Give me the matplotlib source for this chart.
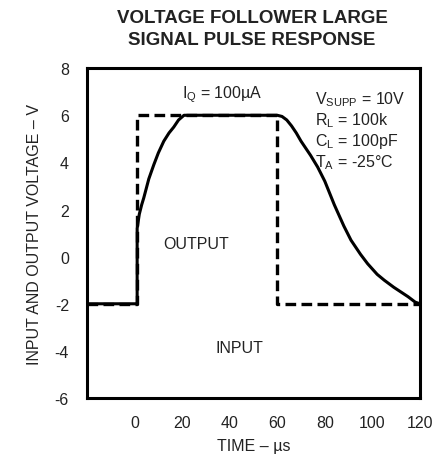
import matplotlib
matplotlib.use('Agg')
import matplotlib.pyplot as plt

plt.rcParams['font.family'] = ['Liberation Sans', 'DejaVu Sans']
plt.rcParams['axes.unicode_minus'] = False

# input pulse (dashed)
t_in = [-20, 1, 1, 60, 60, 120]
v_in = [-2, -2, 6, 6, -2, -2]

# output response (solid)
t_out = [-20, 1.1, 1.1, 2.0, 3.0, 3.9, 6.0, 8.1, 10.0, 12.3, 14.5, 16.5, 18.5, 20.8, 40, 60,
         62, 64, 66, 68, 70, 72, 74, 77, 80, 84, 88, 91, 95, 98, 102, 105, 109, 112, 115, 118, 120]
v_out = [-2, -2, 1.2, 1.8, 2.2, 2.5, 3.3, 3.9, 4.4, 4.9, 5.25, 5.5, 5.8, 6.0, 6.0, 6.0,
         5.95, 5.8, 5.55, 5.25, 4.9, 4.6, 4.3, 3.8, 3.2, 2.2, 1.3, 0.7, 0.1, -0.3, -0.75, -1.0, -1.3, -1.5, -1.7, -1.93, -2.0]

xticks = [0, 20, 40, 60, 80, 100, 120]
yticks = [-6, -4, -2, 0, 2, 4, 6, 8]

fig = plt.figure(figsize=(4.37, 4.64), dpi=100)
ax = fig.add_axes([0.199, 0.140, 0.762, 0.711])

ax.plot(t_in, v_in, color='black', lw=2.4, ls=(0, (3.2, 1.6)))
ax.plot(t_out, v_out, color='black', lw=2.2)

ax.set_xlim(-20, 120)
ax.set_ylim(-6, 8)
ax.set_xticks(xticks)
ax.set_yticks(yticks)
ax.tick_params(length=0, labelsize=11.5, pad=12, colors='#222222')
ax.tick_params(axis='y', pad=13)
for s in ax.spines.values():
    s.set_linewidth(2.2)

ax.set_xlabel('TIME – µs', fontsize=11.5, color='#222222', labelpad=6)
ax.set_ylabel('INPUT AND OUTPUT VOLTAGE – V', fontsize=11.5, color='#222222', labelpad=9)

fig.text(0.577, 0.978, 'VOLTAGE FOLLOWER LARGE\nSIGNAL PULSE RESPONSE', ha='center', va='top',
         fontsize=13.5, fontweight='bold', color='#222222', linespacing=1.4)

ax.text(20, 6.9, r'I$_\mathregular{Q}$ = 100µA', fontsize=11.5, color='#222222', ha='left', va='center')
ax.text(76, 7.1, 'V$_\\mathregular{SUPP}$ = 10V\nR$_\\mathregular{L}$ = 100k\nC$_\\mathregular{L}$ = 100pF\nT$_\\mathregular{A}$ = -25°C',
        fontsize=11.5, color='#222222', ha='left', va='top', linespacing=1.15)
ax.text(26, 0.55, 'OUTPUT', fontsize=11.5, color='#222222', ha='center', va='center')
ax.text(44, -3.85, 'INPUT', fontsize=11.5, color='#222222', ha='center', va='center')

fig.savefig('out.png', dpi=100)
